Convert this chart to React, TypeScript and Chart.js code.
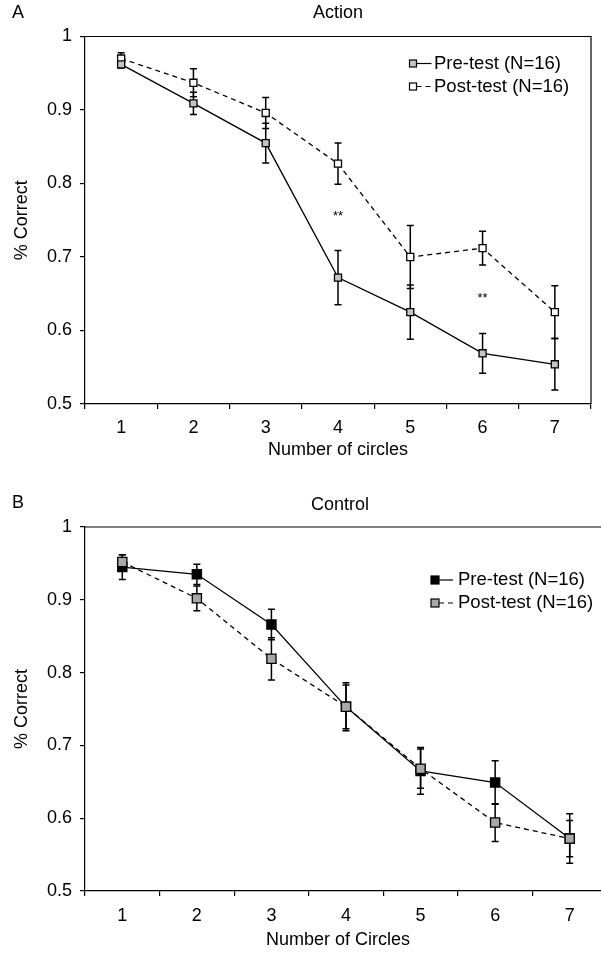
import React, { useEffect, useRef } from 'react';
import { Chart, registerables } from 'chart.js';

Chart.register(...registerables);

// ---------- data ----------
const categories = ['1', '2', '3', '4', '5', '6', '7'];

const actionPre = [0.962, 0.909, 0.855, 0.672, 0.625, 0.569, 0.554];
const actionPreErr = [0.005, 0.015, 0.027, 0.037, 0.037, 0.027, 0.035];
const actionPost = [0.97, 0.937, 0.896, 0.827, 0.7, 0.712, 0.625];
const actionPostErr = [0.008, 0.019, 0.021, 0.028, 0.043, 0.023, 0.036];

const controlPre = [0.945, 0.935, 0.866, 0.753, 0.665, 0.649, 0.572];
const controlPreErr = [0.017, 0.014, 0.021, 0.033, 0.032, 0.03, 0.034];
const controlPost = [0.952, 0.902, 0.819, 0.753, 0.668, 0.594, 0.572];
const controlPostErr = [0.01, 0.017, 0.029, 0.03, 0.027, 0.026, 0.025];

const yMin = 0.5;
const yMax = 1;
const yStep = 0.1;

const starIndices = [3, 5];
const starValues = [0.755, 0.644];

const FONT = '"Liberation Sans", Arial, Helvetica, sans-serif';

// ---------- plugins ----------
const errorBarsPlugin = {
  id: 'errorBars',
  beforeDatasetsDraw(chart: any) {
    const { ctx } = chart;
    const y = chart.scales.y;
    chart.data.datasets.forEach((ds: any, i: number) => {
      const errs = ds.errors;
      if (!errs) return;
      const meta = chart.getDatasetMeta(i);
      ctx.save();
      ctx.strokeStyle = '#000';
      ctx.lineWidth = 1.5;
      ctx.setLineDash([]);
      meta.data.forEach((pt: any, j: number) => {
        const v = ds.data[j];
        const e = errs[j];
        const yt = y.getPixelForValue(v + e);
        const yb = y.getPixelForValue(v - e);
        const x = pt.x;
        const c = 3.5;
        ctx.beginPath();
        ctx.moveTo(x, yt);
        ctx.lineTo(x, yb);
        ctx.moveTo(x - c, yt);
        ctx.lineTo(x + c, yt);
        ctx.moveTo(x - c, yb);
        ctx.lineTo(x + c, yb);
        ctx.stroke();
      });
      ctx.restore();
    });
  },
};

const framePlugin = {
  id: 'frame',
  beforeDatasetsDraw(chart: any) {
    const { ctx, chartArea } = chart;
    ctx.save();
    ctx.strokeStyle = '#000';
    ctx.lineWidth = 1.2;
    ctx.beginPath();
    ctx.moveTo(chartArea.left, chartArea.top);
    ctx.lineTo(chartArea.right, chartArea.top);
    ctx.lineTo(chartArea.right, chartArea.bottom);
    ctx.stroke();
    ctx.restore();
  },
};

const legendPlugin = {
  id: 'boxLegend',
  afterDraw(chart: any, _args: any, opts: any) {
    const { ctx, chartArea } = chart;
    const x0 = chartArea.left + opts.dx;
    const y0 = chartArea.top + opts.dy;
    const s = opts.markerSize;
    chart.data.datasets.forEach((ds: any, i: number) => {
      const y = y0 + i * opts.rowGap;
      ctx.save();
      ctx.strokeStyle = '#000';
      ctx.lineWidth = 1.2;
      ctx.setLineDash(ds.borderDash || []);
      ctx.beginPath();
      ctx.moveTo(x0 + s / 2, y);
      ctx.lineTo(x0 + s / 2 + opts.lineLen, y);
      ctx.stroke();
      ctx.setLineDash([]);
      ctx.fillStyle = ds.pointBackgroundColor;
      ctx.fillRect(x0 - s / 2, y - s / 2, s, s);
      ctx.strokeRect(x0 - s / 2, y - s / 2, s, s);
      ctx.fillStyle = '#000';
      ctx.font = `${opts.fontSize}px ${FONT}`;
      ctx.textAlign = 'left';
      ctx.textBaseline = 'middle';
      ctx.fillText(ds.label, x0 + opts.textDx, y);
      ctx.restore();
    });
  },
};

const textPlugin = {
  id: 'panelText',
  afterDraw(chart: any, _args: any, opts: any) {
    const { ctx, chartArea } = chart;
    ctx.save();
    ctx.fillStyle = '#000';
    ctx.font = `${opts.fontSize}px ${FONT}`;
    ctx.textBaseline = 'middle';
    ctx.textAlign = 'left';
    ctx.fillText(opts.letter, opts.letterX, opts.letterY);
    ctx.textAlign = 'center';
    ctx.fillText(opts.title, opts.titleX, opts.titleY);
    ctx.fillText(opts.xTitle, opts.xTitleX, chartArea.bottom + opts.xTitleDy);
    ctx.save();
    ctx.translate(opts.yTitleX, (chartArea.top + chartArea.bottom) / 2);
    ctx.rotate(-Math.PI / 2);
    ctx.fillText(opts.yTitle, 0, 0);
    ctx.restore();
    if (opts.starIdx) {
      ctx.font = `${opts.starSize}px ${FONT}`;
      opts.starIdx.forEach((idx: number, k: number) => {
        const x = chart.scales.x.getPixelForValue(idx);
        const y = chart.scales.y.getPixelForValue(opts.starVal[k]);
        ctx.fillText('**', x, y);
      });
    }
    ctx.restore();
  },
};

function makeConfig(p: any) {
  const tickFont = { family: FONT, size: 18 };
  return {
    type: 'line',
    data: {
      labels: categories,
      datasets: [
        {
          label: 'Pre-test (N=16)',
          data: p.pre,
          errors: p.preErr,
          order: p.preOrder,
          borderColor: '#000',
          borderWidth: 1.3,
          pointStyle: 'rect',
          pointRadius: p.pointRadius,
          pointHoverRadius: p.pointRadius,
          pointBackgroundColor: p.preFill,
          pointBorderColor: '#000',
          pointBorderWidth: 1.3,
          fill: false,
          tension: 0,
        },
        {
          label: 'Post-test (N=16)',
          data: p.post,
          errors: p.postErr,
          order: p.postOrder,
          borderColor: '#000',
          borderWidth: 1.3,
          borderDash: [5, 4],
          pointStyle: 'rect',
          pointRadius: p.pointRadius,
          pointHoverRadius: p.pointRadius,
          pointBackgroundColor: p.postFill,
          pointBorderColor: '#000',
          pointBorderWidth: 1.3,
          fill: false,
          tension: 0,
        },
      ],
    },
    options: {
      responsive: false,
      animation: false,
      events: [],
      layout: { padding: { left: 0, right: p.padRight, top: p.padTop, bottom: 0 } },
      scales: {
        x: {
          type: 'category',
          offset: true,
          afterFit: (s: any) => {
            s.height = p.xHeight;
          },
          grid: {
            display: true,
            offset: true,
            drawOnChartArea: false,
            drawTicks: true,
            tickLength: 5,
            color: '#000',
            lineWidth: 1.2,
          },
          border: { display: true, color: '#000', width: 1.2 },
          ticks: { color: '#000', font: tickFont, padding: p.xTickPad, maxRotation: 0 },
        },
        y: {
          type: 'linear',
          min: yMin,
          max: yMax,
          afterFit: (s: any) => {
            s.width = p.yWidth;
          },
          grid: {
            display: true,
            drawOnChartArea: false,
            drawTicks: true,
            tickLength: 5,
            color: '#000',
            lineWidth: 1.2,
          },
          border: { display: true, color: '#000', width: 1.2 },
          ticks: {
            color: '#000',
            font: tickFont,
            padding: 8,
            stepSize: yStep,
            callback: (v: any) => String(Math.round(Number(v) * 10) / 10),
          },
        },
      },
      plugins: {
        legend: { display: false },
        title: { display: false },
        tooltip: { enabled: false },
        boxLegend: p.legend,
        panelText: p.text,
      },
    },
    plugins: [framePlugin, errorBarsPlugin, legendPlugin, textPlugin],
  };
}

function ChartCanvas({ params, width, height, top }: any) {
  const ref = useRef<HTMLCanvasElement | null>(null);
  useEffect(() => {
    if (!ref.current) return;
    const chart = new Chart(ref.current, makeConfig(params) as any);
    return () => chart.destroy();
  }, []);
  return (
    <canvas
      ref={ref}
      width={width}
      height={height}
      style={{ position: 'absolute', left: 0, top, width, height }}
    />
  );
}

const paramsA = {
  pre: actionPre,
  preErr: actionPreErr,
  post: actionPost,
  postErr: actionPostErr,
  preOrder: 0,
  postOrder: 1,
  preFill: '#c4c4c4',
  postFill: '#ffffff',
  pointRadius: 5,
  padRight: 10,
  padTop: 36.5,
  xHeight: 66,
  xTickPad: 8,
  yWidth: 85,
  legend: { dx: 328, dy: 27, rowGap: 23, markerSize: 7, lineLen: 15, textDx: 21, fontSize: 18.5 },
  text: {
    fontSize: 18,
    letter: 'A',
    letterX: 12,
    letterY: 13,
    title: 'Action',
    titleX: 338,
    titleY: 13,
    xTitle: 'Number of circles',
    xTitleX: 338,
    xTitleDy: 46,
    yTitle: '% Correct',
    yTitleX: 22,
    starIdx: starIndices,
    starVal: starValues,
    starSize: 13,
  },
};

const paramsB = {
  pre: controlPre,
  preErr: controlPreErr,
  post: controlPost,
  postErr: controlPostErr,
  preOrder: 1,
  postOrder: 0,
  preFill: '#000000',
  postFill: '#a8a8a8',
  pointRadius: 6.5,
  padRight: 10,
  padTop: 57,
  xHeight: 65,
  xTickPad: 9,
  yWidth: 85,
  legend: { dx: 350, dy: 53, rowGap: 23, markerSize: 8, lineLen: 14, textDx: 23, fontSize: 18.5 },
  text: {
    fontSize: 18,
    letter: 'B',
    letterX: 12,
    letterY: 33,
    title: 'Control',
    titleX: 340,
    titleY: 35,
    xTitle: 'Number of Circles',
    xTitleX: 338,
    xTitleDy: 49,
    yTitle: '% Correct',
    yTitleX: 22,
  },
};

export default function App() {
  return (
    <div
      style={{
        position: 'fixed',
        left: 0,
        top: 0,
        width: 601,
        height: 956,
        overflow: 'hidden',
        background: '#fff',
      }}
    >
      <ChartCanvas params={paramsA} width={601} height={470} top={0} />
      <ChartCanvas params={paramsB} width={617} height={486} top={470} />
    </div>
  );
}
